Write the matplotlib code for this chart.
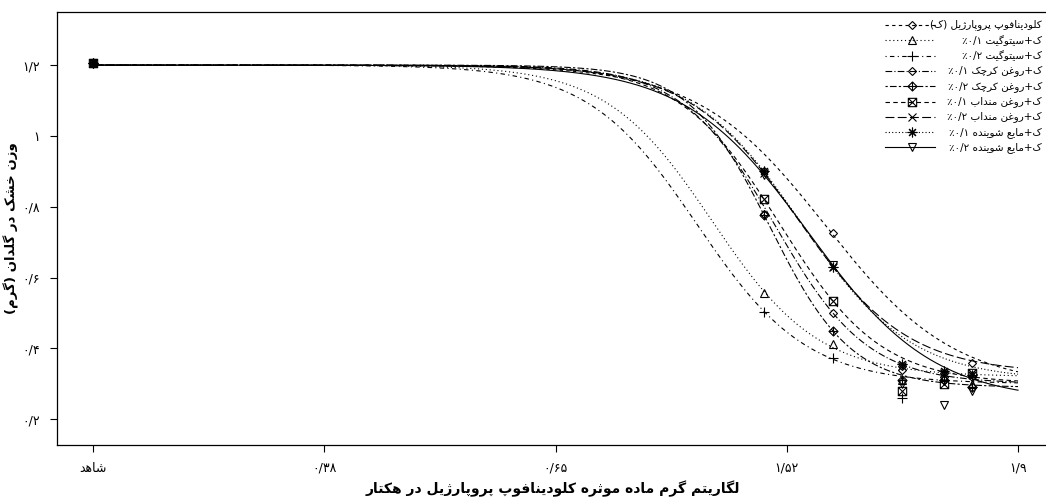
import re
import numpy as np
import matplotlib.pyplot as plt
from matplotlib.path import Path
from matplotlib.lines import Line2D

# x positions: 0 = control (شاهد), tick marks sit at 0..4
tick_pos = [0, 1, 2, 3, 4]
tick_text = ["شاهد", "۰/۳۸", "۰/۶۵", "۱/۵۲", "۱/۹"]
ytick_pos = [0.2, 0.4, 0.6, 0.8, 1.0, 1.2]
ytick_text = ["۰/۲", "۰/۴", "۰/۶", "۰/۸", "۱", "۱/۲"]

doses = [0, 2.90, 3.20, 3.50, 3.68, 3.80]

names = ["کلودینافوپ پروپارژیل (ک)",
         "ک+سیتوگیت ۰/۱٪",
         "ک+سیتوگیت ۰/۲٪",
         "ک+روغن کرچک ۰/۱٪",
         "ک+روغن کرچک ۰/۲٪",
         "ک+روغن منداب ۰/۱٪",
         "ک+روغن منداب ۰/۲٪",
         "ک+مایع شوینده ۰/۱٪",
         "ک+مایع شوینده ۰/۲٪"]

clodinafop = [1.205, 0.90, 0.725, 0.35, 0.33, 0.358]
sitovit_1 = [1.205, 0.556, 0.412, 0.31, 0.32, 0.30]
sitovit_2 = [1.205, 0.502, 0.372, 0.26, 0.31, 0.29]
karchak_1 = [1.205, 0.78, 0.499, 0.34, 0.32, 0.32]
karchak_2 = [1.205, 0.776, 0.449, 0.31, 0.31, 0.29]
mendab_1 = [1.205, 0.821, 0.533, 0.28, 0.30, 0.33]
mendab_2 = [1.205, 0.895, 0.63, 0.35, 0.33, 0.33]
mayeh_1 = [1.205, 0.90, 0.63, 0.355, 0.335, 0.325]
mayeh_2 = [1.205, 0.89, 0.635, 0.30, 0.24, 0.28]
series = [clodinafop, sitovit_1, sitovit_2, karchak_1, karchak_2,
          mendab_1, mendab_2, mayeh_1, mayeh_2]

# fitted log-logistic curves: slope, lower limit, upper limit, ED50 (x position)
fit_b = [3.6, 4.35, 4.23, 4.97, 5.67, 4.59, 4.22, 4.20, 3.72]
fit_c = [0.29, 0.32, 0.30, 0.30, 0.29, 0.30, 0.33, 0.31, 0.25]
fit_d = [1.2, 1.2, 1.2, 1.2, 1.2, 1.2, 1.2, 1.2, 1.2]
fit_e = [3.17, 2.677, 2.612, 2.947, 2.926, 2.971, 3.048, 3.062, 3.096]


# --- poor man's arabic shaping + bidi (matplotlib draws text left to right)
dual = {0x0628: 0xFE8F, 0x067E: 0xFB56, 0x062A: 0xFE95, 0x062B: 0xFE99,
        0x062C: 0xFE9D, 0x0686: 0xFB7A, 0x062D: 0xFEA1, 0x062E: 0xFEA5,
        0x0633: 0xFEB1, 0x0634: 0xFEB5, 0x0635: 0xFEB9, 0x0636: 0xFEBD,
        0x0637: 0xFEC1, 0x0638: 0xFEC5, 0x0639: 0xFEC9, 0x063A: 0xFECD,
        0x0641: 0xFED1, 0x0642: 0xFED5, 0x06A9: 0xFB8E, 0x06AF: 0xFB92,
        0x0644: 0xFEDD, 0x0645: 0xFEE1, 0x0646: 0xFEE5, 0x0647: 0xFEE9,
        0x06CC: 0xFBFC, 0x0626: 0xFE89}
right = {0x0627: 0xFE8D, 0x0622: 0xFE81, 0x062F: 0xFEA9, 0x0630: 0xFEAB,
         0x0631: 0xFEAD, 0x0632: 0xFEAF, 0x0698: 0xFB8A, 0x0648: 0xFEED,
         0x0624: 0xFE85, 0x0623: 0xFE83}


def rtl(s):
    out = []
    for i, ch in enumerate(s):
        o = ord(ch)
        if o not in dual and o not in right:
            out.append(ch)
            continue
        prev = ord(s[i - 1]) if i > 0 else None
        nxt = ord(s[i + 1]) if i + 1 < len(s) else None
        jp = prev in dual
        jn = o in dual and (nxt in dual or nxt in right)
        k = 3 if (jp and jn) else 1 if jp else 2 if jn else 0
        out.append(chr(dual.get(o, right.get(o)) + k))
    v = ''.join(out)[::-1].translate(str.maketrans('()', ')('))
    return re.sub(r'[0-9\u06F0-\u06F9/.]+', lambda m: m.group(0)[::-1], v)


plt.rcParams['font.family'] = ['DejaVu Sans']

# markers (R style pch)
M, L, C = Path.MOVETO, Path.LINETO, Path.CLOSEPOLY
diamond_plus = Path([(0, 1), (1, 0), (0, -1), (-1, 0), (0, 1), (0, 1), (0, -1), (-1, 0), (1, 0)],
                    [M, L, L, L, C, M, L, M, L])
square_x = Path([(-1, -1), (1, -1), (1, 1), (-1, 1), (-1, -1), (-1, -1), (1, 1), (-1, 1), (1, -1)],
                [M, L, L, L, C, M, L, M, L])
markers = ['D', '^', '+', 'D', diamond_plus, square_x, 'x', (8, 2, 0), 'v']
msizes = [4.5, 6, 7, 4.5, 6.5, 6, 6, 7, 6]
dashes = [(3, 3), (1, 2.5), (1, 3, 4, 3), (6, 2, 1, 2), (2, 2, 6, 2),
          (4, 3), (8, 3), (1, 2), None]

fig = plt.figure(figsize=(10.46, 5.0), dpi=100)
ax = fig.add_axes([57 / 1046, 55 / 500, 992 / 1046, 433 / 500])

xs = np.linspace(0, 4, 500)
for i, vals in enumerate(series):
    curve = fit_c[i] + (fit_d[i] - fit_c[i]) / (1 + np.exp(fit_b[i] * (xs - fit_e[i])))
    ln, = ax.plot(xs, curve, color='black', lw=0.8)
    if dashes[i]:
        ln.set_dashes(dashes[i])
    ax.plot(doses, vals, ls='none', marker=markers[i], ms=msizes[i],
            mfc='none', mec='black', mew=0.8)

ax.set_xlim(-0.156, 4.134)
ax.set_ylim(0.127, 1.35)
ax.set_xticks(tick_pos)
ax.set_xticklabels([rtl(t) for t in tick_text], fontsize=9)
ax.set_yticks(ytick_pos)
ax.set_yticklabels([rtl(t) for t in ytick_text], fontsize=9)
ax.tick_params(length=5, width=0.8, pad=7)
for sp in ax.spines.values():
    sp.set_linewidth(0.9)

ax.set_xlabel(rtl("لگاریتم گرم ماده موثره کلودینافوپ پروپارژیل در هکتار"),
              fontsize=10, fontweight='bold', labelpad=4)
ax.set_ylabel(rtl("وزن خشک در گلدان (گرم)"), fontsize=9.5, fontweight='bold', labelpad=3)

# legend, drawn in pixels of the figure (text right aligned like the original)
for i, name in enumerate(names):
    yy = 1 - (25 + i * 15.3) / 500
    ln = Line2D([885 / 1046, 935 / 1046], [yy, yy], transform=fig.transFigure,
                color='black', lw=0.8)
    if dashes[i]:
        ln.set_dashes(dashes[i])
    fig.add_artist(ln)
    fig.add_artist(Line2D([912 / 1046], [yy], transform=fig.transFigure, ls='none',
                          marker=markers[i], ms=msizes[i], mfc='none', mec='black', mew=0.8))
    fig.text(1042 / 1046, yy, rtl(name), ha='right', va='center', fontsize=7.5)

fig.savefig('out.png', dpi=100)
